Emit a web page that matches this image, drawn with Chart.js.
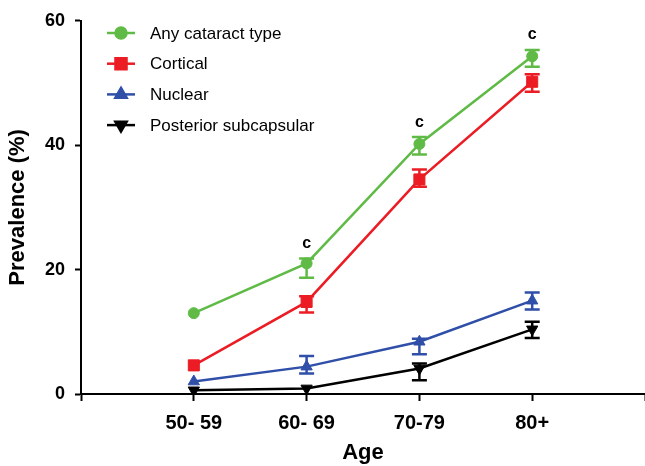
<!DOCTYPE html>
<html>
<head>
<meta charset="utf-8">
<script src="https://cdn.jsdelivr.net/npm/chart.js@4"></script>
<style>
  html, body { margin: 0; padding: 0; background: #fff; }
  #wrap { width: 645px; height: 466px; }
</style>
</head>
<body>
<div id="wrap"><canvas id="cataractChart" width="645" height="466"></canvas></div>
<script>
// age groups
const ageGroups = ['50- 59', '60- 69', '70-79', '80+'];

// prevalence (%) per series, with error bar ends
const anyType = [13.0, 21.0, 40.2, 54.3];
const anyLow = [null, 18.7, 38.5, 52.6];
const anyHigh = [null, 21.8, 41.3, 55.3];

const cortical = [4.6, 14.8, 34.5, 50.2];
const corticalLow = [null, 13.1, 33.3, 48.6];
const corticalHigh = [null, 15.7, 36.1, 51.4];

const nuclear = [2.0, 4.4, 8.4, 15.0];
const nuclearLow = [null, 3.3, 6.4, 13.6];
const nuclearHigh = [null, 6.1, 8.9, 16.3];

const posterior = [0.6, 0.9, 4.1, 10.4];
const posteriorLow = [null, null, 2.2, 9.0];
const posteriorHigh = [null, null, 4.9, 11.6];

// significance marks above "Any cataract type"
const sigMarks = ['', 'c', 'c', 'c'];

const yTicks = [0, 20, 40, 60];

const FONT = '"Liberation Sans", Arial, sans-serif';

function series(label, values, low, high, color, style, radius, rotation) {
    return {
        label: label,
        data: values.map((v, i) => ({ x: i, y: v })),
        errLow: low,
        errHigh: high,
        borderColor: color,
        backgroundColor: color,
        borderWidth: 2.5,
        pointStyle: style,
        pointRadius: radius,
        pointRotation: rotation || 0,
        pointBorderWidth: 1,
        tension: 0
    };
}

// error bars + "c" marks
const errorBars = {
    id: 'errorBars',
    afterDatasetsDraw(chart) {
        const ctx = chart.ctx;
        const xs = chart.scales.x;
        const ys = chart.scales.y;
        ctx.save();
        chart.data.datasets.forEach(ds => {
            ctx.strokeStyle = ds.borderColor;
            ctx.lineWidth = 2.5;
            ds.data.forEach((p, i) => {
                if (ds.errLow[i] == null) return;
                const x = xs.getPixelForValue(p.x);
                const yl = ys.getPixelForValue(ds.errLow[i]);
                const yh = ys.getPixelForValue(ds.errHigh[i]);
                ctx.beginPath();
                ctx.moveTo(x, yl); ctx.lineTo(x, yh);
                ctx.moveTo(x - 7.5, yl); ctx.lineTo(x + 7.5, yl);
                ctx.moveTo(x - 7.5, yh); ctx.lineTo(x + 7.5, yh);
                ctx.stroke();
            });
        });
        ctx.fillStyle = '#000';
        ctx.font = 'bold 16px ' + FONT;
        ctx.textAlign = 'center';
        ctx.textBaseline = 'middle';
        sigMarks.forEach((m, i) => {
            if (!m) return;
            const x = xs.getPixelForValue(i);
            const y = ys.getPixelForValue(anyHigh[i]) - 15;
            ctx.fillText(m, x, y);
        });
        ctx.restore();
    }
};

// legend with line + marker samples
const lineLegend = {
    id: 'lineLegend',
    afterDraw(chart) {
        const ctx = chart.ctx;
        ctx.save();
        chart.data.datasets.forEach((ds, i) => {
            const y = 33 + i * 30.7;
            ctx.strokeStyle = ds.borderColor;
            ctx.lineWidth = 2.5;
            ctx.beginPath();
            ctx.moveTo(107, y); ctx.lineTo(135, y);
            ctx.stroke();
            ctx.fillStyle = ds.backgroundColor;
            Chart.helpers.drawPoint(ctx, {
                pointStyle: ds.pointStyle,
                radius: ds.pointRadius,
                rotation: ds.pointRotation,
                borderWidth: 1
            }, 121, y);
            ctx.fillStyle = '#000';
            ctx.font = '17px ' + FONT;
            ctx.textAlign = 'left';
            ctx.textBaseline = 'middle';
            ctx.fillText(ds.label, 150, y + 1);
        });
        ctx.restore();
    }
};

const ctx = document.getElementById('cataractChart').getContext('2d');
new Chart(ctx, {
    type: 'line',
    data: {
        datasets: [
            series('Any cataract type', anyType, anyLow, anyHigh, '#5fbb46', 'circle', 5.5),
            series('Cortical', cortical, corticalLow, corticalHigh, '#ec1c24', 'rect', 7.8),
            series('Nuclear', nuclear, nuclearLow, nuclearHigh, '#2f4fa8', 'triangle', 6.5),
            series('Posterior subcapsular', posterior, posteriorLow, posteriorHigh, '#000000', 'triangle', 6.5, 180)
        ]
    },
    options: {
        responsive: false,
        animation: false,
        layout: { autoPadding: false, padding: { top: 20, right: 0, left: 0, bottom: 0 } },
        plugins: {
            legend: { display: false },
            tooltip: { enabled: false }
        },
        scales: {
            x: {
                type: 'linear',
                min: -1,
                max: 4,
                afterFit(scale) {
                    scale.height = 72;
                    scale.paddingLeft = 0;
                    scale.paddingRight = 0;
                },
                afterBuildTicks(scale) {
                    scale.ticks = [-1, 0, 1, 2, 3, 4].map(v => ({ value: v }));
                },
                ticks: {
                    color: '#000',
                    padding: 10,
                    maxRotation: 0,
                    font: { family: FONT, size: 20, weight: 'bold' },
                    callback: v => ageGroups[v] || ''
                },
                grid: { drawOnChartArea: false, tickLength: 7, tickColor: '#000', tickWidth: 2 },
                border: { color: '#000', width: 2 },
                title: {
                    display: true,
                    text: 'Age',
                    color: '#000',
                    padding: { top: 0, bottom: 0 },
                    font: { family: FONT, size: 22, weight: 'bold' }
                }
            },
            y: {
                min: 0,
                max: 60,
                afterFit(scale) { scale.width = 81; },
                afterBuildTicks(scale) {
                    scale.ticks = yTicks.map(v => ({ value: v }));
                },
                ticks: {
                    color: '#000',
                    padding: 10,
                    font: { family: FONT, size: 18, weight: 'bold' }
                },
                grid: { drawOnChartArea: false, tickLength: 6, tickColor: '#000', tickWidth: 2 },
                border: { color: '#000', width: 2 },
                title: {
                    display: true,
                    text: 'Prevalence (%)',
                    color: '#000',
                    padding: { top: 5, bottom: 0 },
                    font: { family: FONT, size: 22, weight: 'bold' }
                }
            }
        }
    },
    plugins: [errorBars, lineLegend]
});
</script>
</body>
</html>
